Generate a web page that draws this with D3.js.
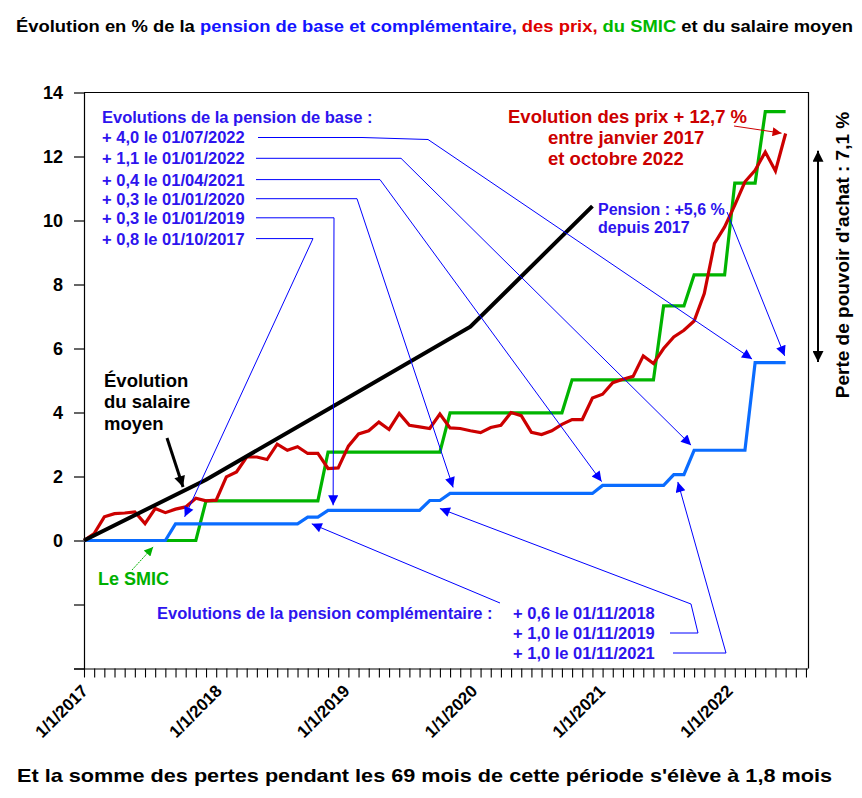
<!DOCTYPE html>
<html>
<head>
<meta charset="utf-8">
<script src="https://cdn.jsdelivr.net/npm/d3@7"></script>
<style>
  body { margin: 0; background: #fff; }
  svg { display: block; font-family: "Liberation Sans", Arial, sans-serif; font-weight: bold; }
</style>
</head>
<body>
<svg id="chart" width="862" height="798"></svg>
<script>

// Monthly series, Jan 2017 (index 0) to Oct 2022 (index 69), % since Jan 2017
var pension = [0, 0, 0, 0, 0, 0, 0, 0, 0,
  0.52, 0.52, 0.52, 0.52, 0.52, 0.52, 0.52, 0.52, 0.52, 0.52, 0.52, 0.52, 0.52,
  0.73, 0.73,
  0.94, 0.94, 0.94, 0.94, 0.94, 0.94, 0.94, 0.94, 0.94, 0.94,
  1.25, 1.25,
  1.47, 1.47, 1.47, 1.47, 1.47, 1.47, 1.47, 1.47, 1.47, 1.47, 1.47, 1.47, 1.47, 1.47, 1.47,
  1.72, 1.72, 1.72, 1.72, 1.72, 1.72, 1.72,
  2.06, 2.06,
  2.82, 2.82, 2.82, 2.82, 2.82, 2.82,
  5.56, 5.56, 5.56, 5.56];

var smic = [0, 0, 0, 0, 0, 0, 0, 0, 0, 0, 0, 0,
  1.24, 1.24, 1.24, 1.24, 1.24, 1.24, 1.24, 1.24, 1.24, 1.24, 1.24, 1.24,
  2.76, 2.76, 2.76, 2.76, 2.76, 2.76, 2.76, 2.76, 2.76, 2.76, 2.76, 2.76,
  3.99, 3.99, 3.99, 3.99, 3.99, 3.99, 3.99, 3.99, 3.99, 3.99, 3.99, 3.99,
  5.02, 5.02, 5.02, 5.02, 5.02, 5.02, 5.02, 5.02, 5.02,
  7.33, 7.33, 7.33,
  8.30, 8.30, 8.30, 8.30,
  11.17, 11.17, 11.17,
  13.40, 13.40, 13.40];

var prix = [0, 0.22, 0.74, 0.84, 0.86, 0.89, 0.53, 1.0, 0.87, 0.98,
  1.05, 1.32, 1.24, 1.26, 1.99, 2.14, 2.61, 2.61, 2.53, 3.01,
  2.82, 2.93, 2.72, 2.72, 2.25, 2.27, 2.95, 3.33, 3.43, 3.70,
  3.47, 3.97, 3.60, 3.55, 3.50, 3.95, 3.52, 3.50, 3.43, 3.37,
  3.53, 3.60, 4.0, 3.90, 3.38, 3.31, 3.43, 3.63, 3.78, 3.78,
  4.45, 4.57, 4.93, 5.04, 5.13, 5.77, 5.53, 6.0, 6.36, 6.57,
  6.86, 7.72, 9.28, 9.80, 10.48, 11.21, 11.57, 12.14, 11.55, 12.72];

// average wage, known points only
var salaireMonths = [0, 12, 24, 38, 50];
var salaireValues = [0, 1.9, 4.1, 6.68, 10.45];

var yTicks = [-4, -2, 0, 2, 4, 6, 8, 10, 12, 14];
var yearLabels = ["1/1/2017", "1/1/2018", "1/1/2019", "1/1/2020", "1/1/2021", "1/1/2022"];
var years = [2017, 2018, 2019, 2020, 2021, 2022];

var baseNotes = ["+ 4,0 le 01/07/2022", "+ 1,1 le 01/01/2022", "+ 0,4 le 01/04/2021",
  "+ 0,3 le 01/01/2020", "+ 0,3 le 01/01/2019", "+ 0,8 le 01/10/2017"];
// where each arrow points, in (month, %) units
var baseTips = [[65.7, 5.67], [59.7, 2.98], [50.9, 1.84], [36.3, 1.66], [24.5, 1.10], [9.9, 0.74]];

var compNotes = ["+ 0,6 le 01/11/2018", "+ 1,0 le 01/11/2019", "+ 1,0 le 01/11/2021"];
var compTips = [[22.4, 0.52], [35.0, 1.0], [58.4, 1.83]];

var blueTxt = "#2d14ee";
var blueLine = "#0000ff";

var svg = d3.select("#chart");

var x = d3.scaleLinear().domain([0, 71.2]).range([84, 808]);
var y = d3.scaleLinear().domain([-4, 14]).range([668.5, 92.5]);
// the year labels sit a little right of their ticks in the original
var labelX = d3.scaleLinear().domain([2017, 2018, 2022]).range([89, 223, 734]);

// arrow markers
var defs = svg.append("defs");
function marker(id, color, w, h) {
  defs.append("marker")
    .attr("id", id)
    .attr("viewBox", "0 0 10 10")
    .attr("refX", 10).attr("refY", 5)
    .attr("markerWidth", w).attr("markerHeight", h)
    .attr("markerUnits", "userSpaceOnUse")
    .attr("orient", "auto-start-reverse")
    .append("path").attr("d", "M0,0L10,5L0,10z").attr("fill", color);
}
marker("ab", blueLine, 13, 10);
marker("ak", "#000", 14, 11);
marker("ar", "#cc0000", 13, 9);
marker("ag", "#00b000", 11, 9);

// frame
svg.append("path")
  .attr("d", "M" + x(0) + "," + y(14) + "H" + (x.range()[1] + 0.5) + "V" + y(-4))
  .attr("fill", "none").attr("stroke", "#000").attr("stroke-width", 1.2);

// axes
var yAxis = svg.append("g")
  .attr("transform", "translate(" + x(0) + ",0)")
  .call(d3.axisLeft(y).tickValues(yTicks).tickSizeInner(10).tickSizeOuter(0).tickPadding(11)
    .tickFormat(function(d) { return d >= 0 ? d : ""; }));
yAxis.selectAll("text").attr("font-size", 18).attr("font-family", null).attr("font-weight", "bold").attr("fill", "#000");
yAxis.selectAll("line, path").attr("stroke", "#000").attr("stroke-width", 1.2);

var xAxis = svg.append("g")
  .attr("transform", "translate(0," + y(-4) + ")")
  .call(d3.axisBottom(x).tickValues(d3.range(0, 72)).tickSizeInner(9).tickSizeOuter(0).tickFormat(""));
xAxis.select(".domain").attr("d", "M" + (x(0) - 10) + ",0.5H" + x.range()[1]);
xAxis.selectAll("line, path").attr("stroke", "#000").attr("stroke-width", 1.1);

svg.append("g").selectAll("text")
  .data(years).enter().append("text")
  .attr("transform", function(d) { return "translate(" + labelX(d) + ",692) rotate(-45)"; })
  .attr("text-anchor", "end")
  .attr("font-size", 17)
  .text(function(d, i) { return yearLabels[i]; });

// series
var line = d3.line()
  .x(function(d, i) { return x(i); })
  .y(function(d) { return y(d); });

svg.append("path").datum(smic).attr("d", line)
  .attr("fill", "none").attr("stroke", "#00b400").attr("stroke-width", 3.2);
svg.append("path").datum(pension).attr("d", line)
  .attr("fill", "none").attr("stroke", "#0a6cff").attr("stroke-width", 3.2);
svg.append("path").datum(prix).attr("d", line)
  .attr("fill", "none").attr("stroke", "#cc0000").attr("stroke-width", 3.2);

var salLine = d3.line()
  .x(function(d, i) { return x(salaireMonths[i]); })
  .y(function(d) { return y(d); });
svg.append("path").datum(salaireValues).attr("d", salLine)
  .attr("fill", "none").attr("stroke", "#000").attr("stroke-width", 4);

// annotations
function arrow(pts, color, w, m, dash) {
  svg.append("path")
    .attr("d", d3.line()(pts))
    .attr("fill", "none").attr("stroke", color).attr("stroke-width", w)
    .attr("stroke-dasharray", dash || null)
    .attr("marker-end", m ? "url(#" + m + ")" : null);
}
function tip(t) { return [x(t[0]), y(t[1])]; }

var note = svg.append("g").attr("fill", blueTxt).attr("font-size", 16.5);
note.append("text").attr("x", 102).attr("y", 117).attr("dy", "0.36em")
  .text("Evolutions de la pension de base :");

var baseY = [137.5, 158.3, 179.6, 198.7, 217.8, 238.6];
var baseElbow = [[[258, 137.5], [362, 137.5], [428, 139.5]], [[256, 158.3], [401, 158.3]],
  [[256, 179.6], [380, 179.6]], [[256, 198.7], [357, 198.7]], [[256, 217.8], [334, 217.8]],
  [[256, 238.6], [313, 238.6]]];
baseNotes.forEach(function(t, i) {
  note.append("text").attr("x", 102).attr("y", baseY[i]).attr("dy", "0.36em").text(t);
  arrow(baseElbow[i].concat([tip(baseTips[i])]), blueLine, 1, "ab");
});

note.append("text").attr("x", 157).attr("y", 613).attr("dy", "0.36em")
  .text("Evolutions de la pension complémentaire :");
var compY = [613, 633, 653];
compNotes.forEach(function(t, i) {
  note.append("text").attr("x", 513).attr("y", compY[i]).attr("dy", "0.36em").text(t);
});
arrow([[500, 603], tip(compTips[0])], blueLine, 1, "ab");
arrow([[670, 633], [698, 633], [691, 604], tip(compTips[1])], blueLine, 1, "ab");
arrow([[673, 653], [726, 653], tip(compTips[2])], blueLine, 1, "ab");

note.append("text").attr("x", 598).attr("y", 209).attr("dy", "0.36em").attr("font-size", 16)
  .text("Pension : +5,6 %");
note.append("text").attr("x", 598).attr("y", 227).attr("dy", "0.36em").attr("font-size", 16)
  .text("depuis 2017");
arrow([[727, 212], tip([68.9, 5.77])], blueLine, 1, "ab");

var red = svg.append("g").attr("fill", "#cc0000").attr("font-size", 18.5);
red.append("text").attr("x", 508).attr("y", 116).attr("dy", "0.36em").text("Evolution des prix + 12,7 %");
red.append("text").attr("x", 548).attr("y", 137).attr("dy", "0.36em").text("entre janvier 2017");
red.append("text").attr("x", 548).attr("y", 158).attr("dy", "0.36em").text("et octobre 2022");
arrow([[734, 126], tip([68.6, 12.73])], "#cc0000", 1, "ar");

var sal = svg.append("g").attr("fill", "#000").attr("font-size", 18.5);
["Évolution", "du salaire", "moyen"].forEach(function(t, i) {
  sal.append("text").attr("x", 104).attr("y", 380 + i * 21.7).attr("dy", "0.36em").text(t);
});
arrow([[167, 438], tip([9.74, 1.67])], "#000", 3, "ak");

svg.append("text").attr("x", 98).attr("y", 579).attr("dy", "0.36em")
  .attr("font-size", 18).attr("fill", "#00b000").text("Le SMIC");
arrow([[132, 570], tip([6.8, -0.2])], "#00b000", 1, "ag", "2,1");

// purchasing power gap
svg.append("path")
  .attr("d", d3.line()([[818, y(12.18)], [818, y(5.58)]]))
  .attr("stroke", "#000").attr("stroke-width", 2)
  .attr("marker-start", "url(#ak)").attr("marker-end", "url(#ak)");
svg.append("text")
  .attr("transform", "translate(842,255) rotate(-90)")
  .attr("text-anchor", "middle").attr("dy", "0.36em")
  .attr("font-size", 19).text("Perte de pouvoir d'achat : 7,1 %");

// title and caption
var title = svg.append("text").attr("x", 16).attr("y", 26).attr("dy", "0.36em")
  .attr("font-size", 17).attr("textLength", 837).attr("lengthAdjust", "spacingAndGlyphs");
title.append("tspan").attr("fill", "#000").text("Évolution en % de la ");
title.append("tspan").attr("fill", "#1414ff").text("pension de base et complémentaire, ");
title.append("tspan").attr("fill", "#dd0000").text("des prix, ");
title.append("tspan").attr("fill", "#00b800").text("du SMIC");
title.append("tspan").attr("fill", "#000").text(" et du salaire moyen");

svg.append("text").attr("x", 17).attr("y", 775).attr("dy", "0.36em")
  .attr("font-size", 19).attr("textLength", 815).attr("lengthAdjust", "spacingAndGlyphs")
  .text("Et la somme des pertes pendant les 69 mois de cette période s'élève à 1,8 mois");

</script>
</body>
</html>
